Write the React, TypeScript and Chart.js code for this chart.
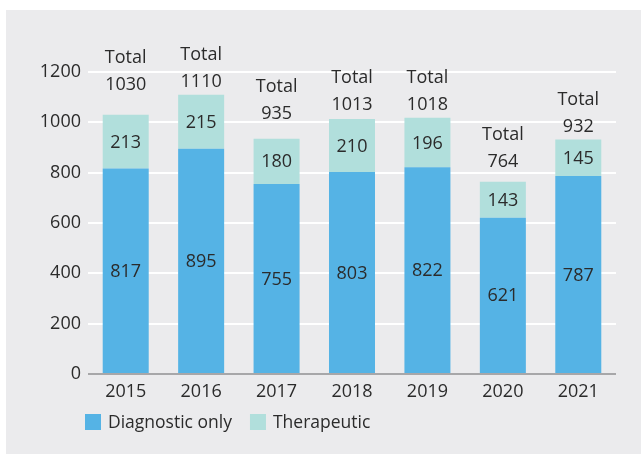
import React, { useEffect, useRef } from 'react';
import { Chart, registerables } from 'chart.js';

Chart.register(...registerables);

const years = ['2015', '2016', '2017', '2018', '2019', '2020', '2021'];
const diagnosticOnly = [817, 895, 755, 803, 822, 621, 787];
const therapeutic = [213, 215, 180, 210, 196, 143, 145];
const totals = [1030, 1110, 935, 1013, 1018, 764, 932];
const yTicks = [0, 200, 400, 600, 800, 1000, 1200];
const seriesNames = ['Diagnostic only', 'Therapeutic'];

// styling
const FONT = '"Open Sans", sans-serif';
const TEXT = '#2b2b2b';
const BLUE = '#55b3e5';
const TEAL = '#b1dfdc';
const totalLabelLift = [17, 0, 12, 1, 0, 7, 0];

const labelPlugin = {
  id: 'barLabels',
  afterDatasetsDraw(chart: any) {
    const ctx = chart.ctx;
    ctx.save();
    ctx.font = `18px ${FONT}`;
    ctx.fillStyle = TEXT;
    ctx.textAlign = 'center';
    ctx.textBaseline = 'middle';
    chart.data.datasets.forEach((ds: any, di: number) => {
      const meta = chart.getDatasetMeta(di);
      meta.data.forEach((bar: any, i: number) => {
        const { x, y, base } = bar.getProps(['x', 'y', 'base'], true);
        ctx.fillText(String(ds.data[i]), x, (y + base) / 2 + 1);
      });
    });
    const topMeta = chart.getDatasetMeta(chart.data.datasets.length - 1);
    topMeta.data.forEach((bar: any, i: number) => {
      const { x, y } = bar.getProps(['x', 'y'], true);
      const numY = y - 13 - totalLabelLift[i];
      ctx.fillText(String(totals[i]), x, numY);
      ctx.fillText('Total', x, numY - 27);
    });

    // legend
    ctx.font = `17.5px ${FONT}`;
    const area = chart.chartArea;
    let lx = area.left - 3;
    const ly = chart.height - 32;
    ctx.textAlign = 'left';
    chart.data.datasets.forEach((ds: any) => {
      ctx.fillStyle = ds.backgroundColor;
      ctx.fillRect(lx, ly - 8, 16, 16);
      ctx.fillStyle = TEXT;
      ctx.fillText(ds.label, lx + 23, ly + 1);
      lx += 23 + ctx.measureText(ds.label).width + 18;
    });
    ctx.restore();
  },
};

export default function App() {
  const ref = useRef<HTMLCanvasElement>(null);
  useEffect(() => {
    const chart = new Chart(ref.current as HTMLCanvasElement, {
      type: 'bar',
      data: {
        labels: years,
        datasets: [
          { label: seriesNames[0], data: diagnosticOnly, backgroundColor: BLUE, borderWidth: 0 },
          { label: seriesNames[1], data: therapeutic, backgroundColor: TEAL, borderWidth: 0 },
        ],
      },
      options: {
        responsive: false,
        animation: false,
        categoryPercentage: 1,
        barPercentage: 0.61,
        layout: { padding: { left: 10, right: 25, top: 62, bottom: 50 } },
        plugins: { legend: { display: false }, tooltip: { enabled: false } },
        scales: {
          x: {
            stacked: true,
            grid: { display: false, drawTicks: false },
            border: { display: false },
            ticks: { color: TEXT, font: { family: FONT, size: 18 }, padding: 7 },
            afterFit: (s: any) => { s.height = 30; },
          },
          y: {
            stacked: true,
            min: 0,
            max: 1200,
            afterBuildTicks: (s: any) => { s.ticks = yTicks.map((v) => ({ value: v })); },
            grid: {
              drawTicks: false,
              lineWidth: 2,
              color: (c: any) => (c.tick && c.tick.value === 0 ? '#a7a7a9' : '#ffffff'),
            },
            border: { display: false },
            ticks: {
              color: TEXT,
              font: { family: FONT, size: 18 },
              padding: 7,
              callback: (v: any) => String(v),
            },
            afterFit: (s: any) => { s.width = 72; },
          },
        },
      },
      plugins: [labelPlugin],
    });
    return () => chart.destroy();
  }, []);
  return (
    <div style={{ position: 'absolute', left: 0, top: 0, width: 641, height: 454, background: '#ffffff' }}>
      <div style={{ position: 'absolute', left: 6, top: 10, width: 635, height: 444, background: '#ebebed' }}>
        <canvas ref={ref} width={635} height={444} style={{ display: 'block', width: 635, height: 444 }} />
      </div>
    </div>
  );
}
